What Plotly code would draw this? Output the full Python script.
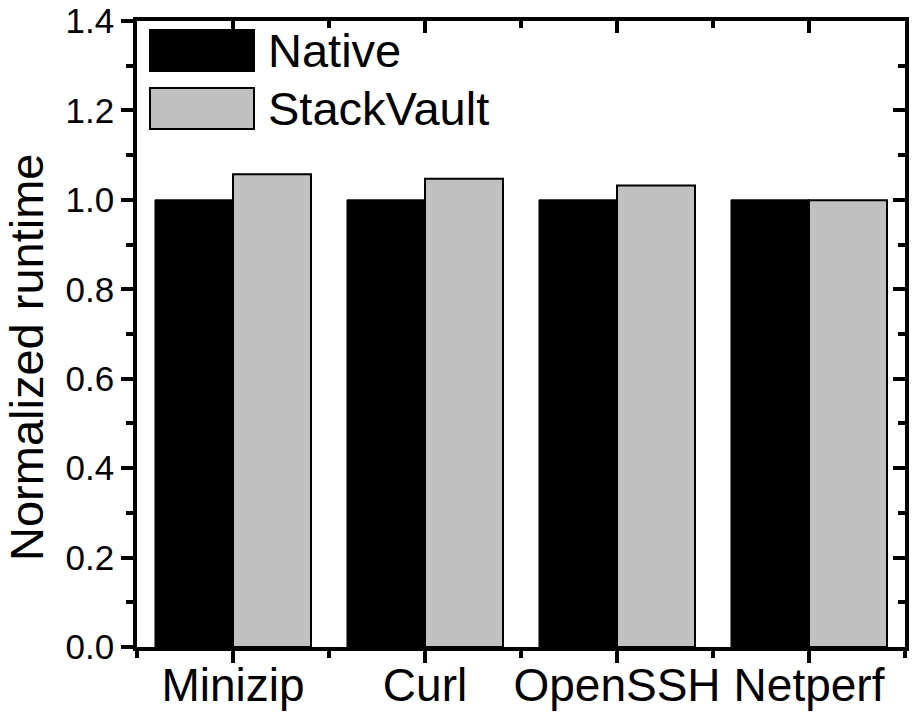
import plotly.graph_objects as go

categories = ["Minizip", "Curl", "OpenSSH", "Netperf"]
native = [1.0, 1.0, 1.0, 1.0]
stackvault = [1.057, 1.047, 1.032, 0.999]
series_names = ["Native", "StackVault"]
y_ticks = [0.0, 0.2, 0.4, 0.6, 0.8, 1.0, 1.2, 1.4]
y_title = "Normalized runtime"

FONT = "Liberation Sans, Arial, sans-serif"
xpos = list(range(len(categories)))

fig = go.Figure()
fig.add_trace(go.Bar(x=xpos, y=native, name=series_names[0],
                     marker=dict(color="#000000", line=dict(color="#000000", width=1)),
                     showlegend=False))
fig.add_trace(go.Bar(x=xpos, y=stackvault, name=series_names[1],
                     marker=dict(color="#C0C0C0", line=dict(color="#000000", width=2)),
                     showlegend=False))

xr = [-0.5, len(categories) - 0.5]
bounds = [i - 0.5 for i in range(len(categories) + 1)]
LW = 3.5

common = dict(showgrid=False, zeroline=False, showline=True, linewidth=LW,
              linecolor="black", tickcolor="black", tickwidth=LW, automargin=False)

fig.update_layout(
    width=917, height=724,
    margin=dict(l=137, r=12, t=21, b=77, autoexpand=False),
    paper_bgcolor="white", plot_bgcolor="white",
    barmode="group", bargap=0.1875, bargroupgap=0,
    font=dict(family=FONT, color="black"),
    xaxis=dict(range=xr, tickmode="array", tickvals=xpos, ticktext=categories,
               tickfont=dict(size=46, family=FONT), ticks="outside", ticklen=12,
               ticklabelstandoff=-17,
               minor=dict(tickmode="array", tickvals=bounds, ticks="outside",
                          ticklen=7, tickwidth=LW, tickcolor="black", showgrid=False),
               **common),
    xaxis2=dict(range=xr, overlaying="x", side="top", tickmode="array",
                tickvals=xpos, showticklabels=False, ticks="inside", ticklen=12,
                minor=dict(tickmode="array", tickvals=bounds, ticks="inside",
                           ticklen=7, tickwidth=LW, tickcolor="black", showgrid=False),
                **common),
    yaxis=dict(range=[0, 1.4], tickmode="array", tickvals=y_ticks,
               ticktext=[f"{v:.1f}" for v in y_ticks],
               tickfont=dict(size=35, family=FONT), ticks="outside", ticklen=12,
               minor=dict(dtick=0.1, ticks="outside", ticklen=7, tickwidth=LW,
                          tickcolor="black", showgrid=False),
               **common),
    yaxis2=dict(range=[0, 1.4], overlaying="y", side="right", tickmode="array",
                tickvals=y_ticks, showticklabels=False, ticks="inside", ticklen=12,
                minor=dict(dtick=0.1, ticks="inside", ticklen=7, tickwidth=LW,
                           tickcolor="black", showgrid=False),
                **common),
)

# invisible trace to activate the mirror axes
fig.add_trace(go.Scatter(x=[xr[0]], y=[0], xaxis="x2", yaxis="y2", mode="markers",
                         marker=dict(opacity=0), showlegend=False, hoverinfo="skip"))

W, H = 768.0, 626.0
def px(x):
    return (x - 137) / W
def py(y):
    return (647 - y) / H

# y-axis title
fig.add_annotation(text=y_title, xref="paper", yref="paper", x=px(26), y=py(358),
                   xanchor="center", yanchor="middle", textangle=-90, showarrow=False,
                   font=dict(size=47, family=FONT, color="black"))

# legend drawn as large swatches (paper coordinates)
legend_items = [
    (series_names[0], "#000000", 30, 71),
    (series_names[1], "#C0C0C0", 88, 129),
]
for name, color, top, bot in legend_items:
    fig.add_shape(type="rect", xref="paper", yref="paper",
                  x0=px(150), x1=px(254), y0=py(bot), y1=py(top),
                  fillcolor=color, line=dict(color="black", width=2))
    fig.add_annotation(text=name, xref="paper", yref="paper",
                       x=px(266), y=py((top + bot) / 2), xanchor="left", yanchor="middle",
                       showarrow=False, font=dict(size=47, family=FONT, color="black"))

fig.write_html("out.html")
